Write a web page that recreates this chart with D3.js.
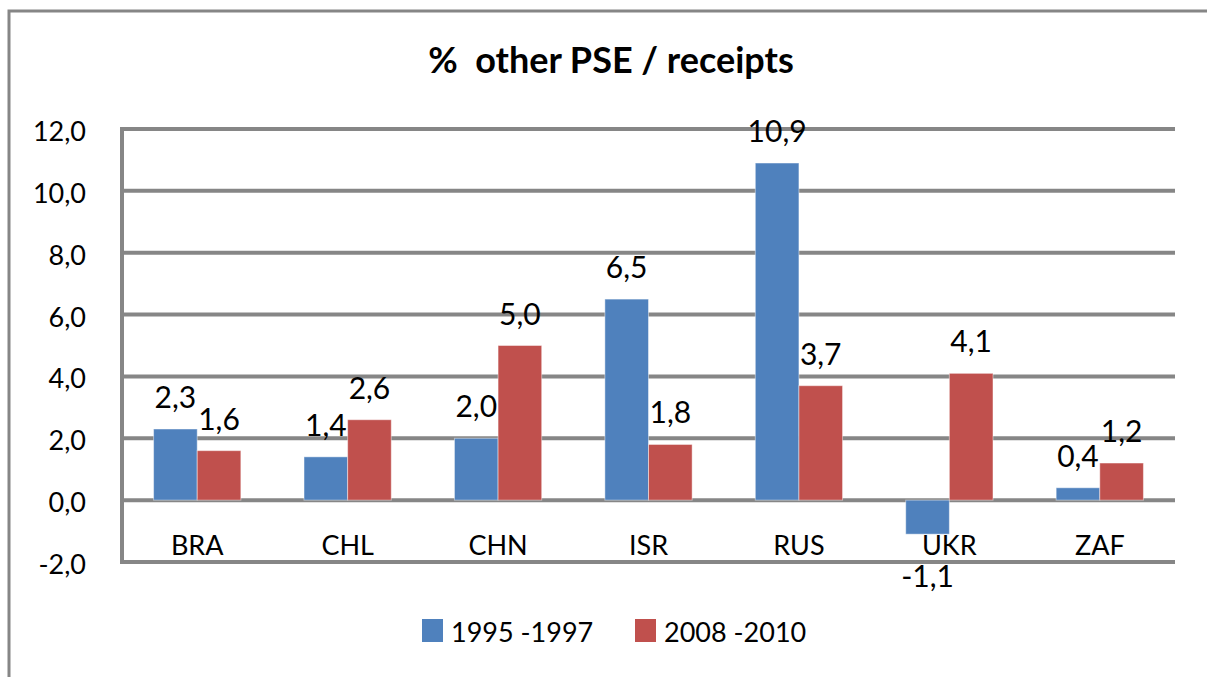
<!DOCTYPE html>
<html>
<head>
<meta charset="utf-8">
<script src="https://cdn.jsdelivr.net/npm/d3@7"></script>
<style>
  body { margin: 0; background: #fff; }
  svg text { font-family: Lato, "Liberation Sans", sans-serif; fill: #000; }
</style>
</head>
<body>
<div id="chart"></div>
<script>
// Dữ liệu
const categories = ["BRA", "CHL", "CHN", "ISR", "RUS", "UKR", "ZAF"];
const seriesNames = ["1995 -1997", "2008 -2010"];
const values1995 = [2.3, 1.4, 2.0, 6.5, 10.9, -1.1, 0.4];
const values2008 = [1.6, 2.6, 5.0, 1.8, 3.7, 4.1, 1.2];
const yTicks = [-2, 0, 2, 4, 6, 8, 10, 12];
const colors = ["#4F81BD", "#C0504D"];

const width = 1207, height = 677;
const grid = "#868686";

const svg = d3.select("#chart").append("svg")
  .attr("width", width)
  .attr("height", height);

// khung ngoài (bị cắt ở bên phải và dưới)
svg.append("path")
  .attr("d", `M9,${height} V11 H${width}`)
  .attr("fill", "none")
  .attr("stroke", grid)
  .attr("stroke-width", 3);

const plot = { left: 122, right: 1175, top: 129, bottom: 562 };

const x = d3.scaleBand()
  .domain(categories)
  .range([plot.left, plot.right])
  .paddingInner(0.42)
  .paddingOuter(0.21);

const xs = d3.scaleBand()
  .domain(seriesNames)
  .range([0, x.bandwidth()]);

const y = d3.scaleLinear()
  .domain([-2, 12])
  .range([plot.bottom, plot.top]);

// dấu phẩy thập phân, gạch nối thường
const fmt = v => d3.format(".1f")(v).replace(".", ",").replace("\u2212", "-");

// lưới ngang
svg.append("g")
  .selectAll("line")
  .data(yTicks)
  .join("line")
  .attr("x1", plot.left)
  .attr("x2", plot.right)
  .attr("y1", d => y(d))
  .attr("y2", d => y(d))
  .attr("stroke", grid)
  .attr("stroke-width", 4);

// trục dọc
svg.append("line")
  .attr("x1", plot.left).attr("x2", plot.left)
  .attr("y1", plot.top - 2).attr("y2", plot.bottom + 2)
  .attr("stroke", grid)
  .attr("stroke-width", 4);

// nhãn trục y
svg.append("g")
  .selectAll("text")
  .data(yTicks)
  .join("text")
  .attr("x", 86)
  .attr("y", d => y(d) + 12)
  .attr("text-anchor", "end")
  .style("font-size", "27px")
  .text(d => fmt(d));

const rows = categories.map((c, i) => ({
  cat: c,
  vals: [values1995[i], values2008[i]]
}));

// cột
const groups = svg.append("g")
  .selectAll("g")
  .data(rows)
  .join("g")
  .attr("transform", d => `translate(${x(d.cat)},0)`);

groups.selectAll("rect")
  .data(d => d.vals.map((v, j) => ({ name: seriesNames[j], v, j })))
  .join("rect")
  .attr("x", d => xs(d.name))
  .attr("width", xs.bandwidth())
  .attr("y", d => y(Math.max(0, d.v)))
  .attr("height", d => Math.abs(y(d.v) - y(0)))
  .attr("fill", d => colors[d.j])
  .attr("stroke", "rgba(255,255,255,0.45)")
  .attr("stroke-width", 1);

// nhãn giá trị
groups.selectAll("text")
  .data(d => d.vals.map((v, j) => ({ name: seriesNames[j], v, j })))
  .join("text")
  .attr("x", d => xs(d.name) + xs.bandwidth() / 2)
  .attr("y", d => d.v >= 0 ? y(d.v) - 21 : y(d.v) + 53)
  .attr("text-anchor", "middle")
  .style("font-size", "30px")
  .text(d => fmt(d.v));

// nhãn nhóm
svg.append("g")
  .selectAll("text")
  .data(categories)
  .join("text")
  .attr("x", d => x(d) + x.bandwidth() / 2)
  .attr("y", 555)
  .attr("text-anchor", "middle")
  .style("font-size", "27px")
  .text(d => d);

// tiêu đề
svg.append("text")
  .attr("x", 611)
  .attr("y", 73)
  .attr("text-anchor", "middle")
  .style("font-size", "36px")
  .style("font-weight", "bold")
  .style("white-space", "pre")
  .attr("xml:space", "preserve")
  .text("%  other PSE / receipts");

// chú giải
const legendX = [422, 635];
const legend = svg.append("g")
  .selectAll("g")
  .data(seriesNames)
  .join("g")
  .attr("transform", (d, i) => `translate(${legendX[i]},619)`);

legend.append("rect")
  .attr("width", 21)
  .attr("height", 23)
  .attr("fill", (d, i) => colors[i]);

legend.append("text")
  .attr("x", 29)
  .attr("y", 23)
  .style("font-size", "27px")
  .text(d => d);
</script>
</body>
</html>
